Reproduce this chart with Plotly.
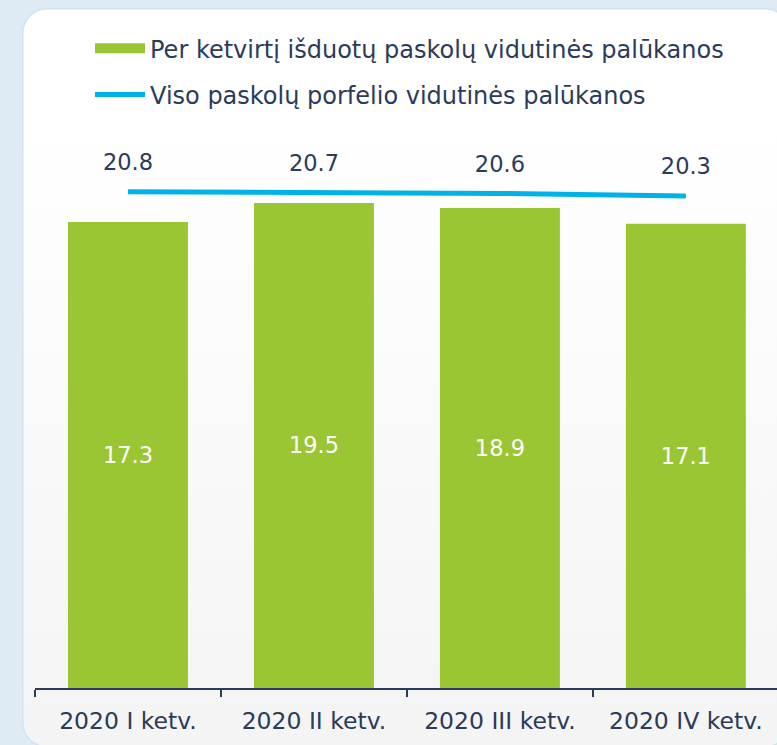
import base64
import plotly.graph_objects as go

# ---- data ----
categories = ["2020 I ketv.", "2020 II ketv.", "2020 III ketv.", "2020 IV ketv."]
bar_name = "Per ketvirtį išduotų paskolų vidutinės palūkanos"
bar_values = [17.3, 19.5, 18.9, 17.1]
line_name = "Viso paskolų porfelio vidutinės palūkanos"
line_values = [20.8, 20.7, 20.6, 20.3]

# ---- style ----
FONT = "DejaVu Sans"
TEXT = "#2b3b5a"
GREEN = "#9bc633"
BLUE = "#00b2e8"
OUTER_BG = "#deebf5"
Y_MIN = -36.7
Y_MAX = 27.95

W, H = 777, 745
ML, MR, MT, MB = 35, 0, 130, 56.5
PW, PH = W - ML - MR, H - MT - MB

fig = go.Figure()
fig.add_trace(go.Bar(
    x=categories,
    y=[v - Y_MIN for v in bar_values],
    base=Y_MIN,
    name=bar_name,
    marker=dict(color=GREEN, line=dict(width=0)),
    text=[f"{v}" for v in bar_values],
    textposition="inside",
    insidetextanchor="middle",
    textfont=dict(color="white", size=22.5, family=FONT),
    width=0.645,
    showlegend=False,
    legendgroup="a",
))
# legend entry for the bars drawn as a wide green swatch
fig.add_trace(go.Scatter(
    x=[None], y=[None],
    name=bar_name,
    mode="lines",
    line=dict(color=GREEN, width=14),
    legendgroup="a",
    hoverinfo="skip",
))
fig.add_trace(go.Scatter(
    x=categories,
    y=line_values,
    name=line_name,
    mode="lines+markers+text",
    line=dict(color=BLUE, width=5),
    marker=dict(size=24, color="rgba(0,0,0,0)"),
    text=[f"{v}" for v in line_values],
    textposition="top center",
    textfont=dict(color=TEXT, size=22.5, family=FONT),
    legendgroup="b",
))

# rounded card with soft gradient
svg = f'''<svg xmlns="http://www.w3.org/2000/svg" width="768" height="740" viewBox="0 0 768 740">
<defs><linearGradient id="g" x1="0" y1="0" x2="0" y2="1">
<stop offset="0" stop-color="#ffffff"/><stop offset="0.16" stop-color="#ffffff"/>
<stop offset="1" stop-color="#f4f4f4"/></linearGradient></defs>
<rect x="0.75" y="0.75" width="766.5" height="738.5" rx="24" ry="24" fill="url(#g)" stroke="#cfe4f3" stroke-width="1.5"/>
</svg>'''
src = "data:image/svg+xml;base64," + base64.b64encode(svg.encode()).decode()
cx0, cy0 = 22, 8
fig.add_layout_image(dict(
    source=src, xref="paper", yref="paper",
    x=(cx0 - ML) / PW, y=(H - MB - cy0) / PH,
    sizex=768 / PW, sizey=740 / PH,
    xanchor="left", yanchor="top", sizing="stretch", layer="below",
))

fig.update_layout(
    width=W, height=H,
    margin=dict(l=ML, r=MR, t=MT, b=MB, autoexpand=False),
    paper_bgcolor=OUTER_BG,
    plot_bgcolor="rgba(0,0,0,0)",
    font=dict(family=FONT, color=TEXT, size=22),
    showlegend=True,
    legend=dict(
        x=(90 - ML) / PW, y=(H - MB - 26) / PH,
        xanchor="left", yanchor="top",
        orientation="v",
        traceorder="grouped",
        tracegroupgap=12,
        itemwidth=50,
        font=dict(size=24, color=TEXT, family=FONT),
        bgcolor="rgba(0,0,0,0)",
    ),
    xaxis=dict(
        range=[-0.5, 3.49],
        showgrid=False, zeroline=False,
        showline=True, linecolor=TEXT, linewidth=1.5,
        ticks="outside", tickson="boundaries", ticklen=7, tickwidth=1.5, tickcolor=TEXT,
        tickfont=dict(size=23.5, color=TEXT, family=FONT),
        ticklabelstandoff=11,
        fixedrange=True,
    ),
    yaxis=dict(
        range=[Y_MIN, Y_MAX],
        visible=False,
        fixedrange=True,
    ),
)

fig.write_html(
    "out.html",
    config={"displayModeBar": False},
    post_script="document.body.style.margin='0';document.body.style.background='" + OUTER_BG + "';",
)
